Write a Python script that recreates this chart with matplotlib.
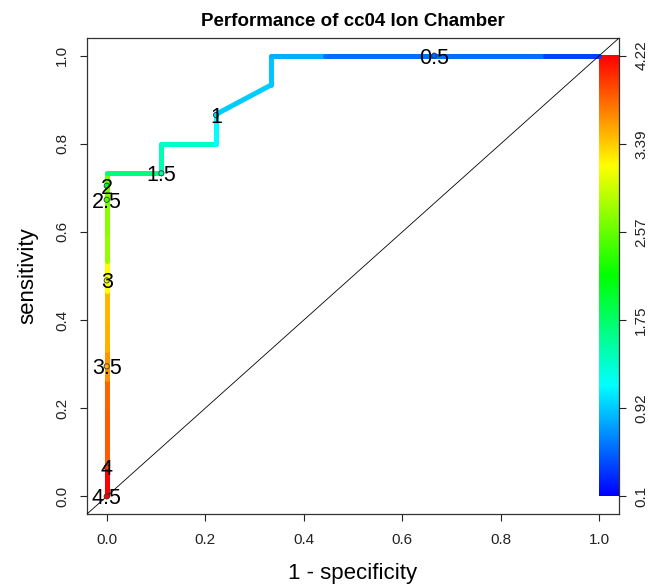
import numpy as np
import matplotlib
matplotlib.use("Agg")
import matplotlib.pyplot as plt
from matplotlib.colors import hsv_to_rgb

plt.rcParams['font.family'] = ['Liberation Sans', 'DejaVu Sans']

# ---------------- data ----------------
title = "Performance of cc04 Ion Chamber"
xlabel = "1 - specificity"
ylabel = "sensitivity"

# ROC curve points (false positive rate, true positive rate)
roc_fpr = [0.0, 0.0, 0.0, 0.0, 0.0, 0.0, 0.0, 0.0, 0.0, 0.0, 0.0, 0.0,
           0.111, 0.111, 0.222, 0.222, 0.333, 0.333, 0.444, 0.556, 0.667,
           0.778, 0.889, 1.0]
roc_tpr = [0.0, 0.067, 0.133, 0.2, 0.267, 0.333, 0.4, 0.467, 0.533, 0.6,
           0.667, 0.733, 0.733, 0.8, 0.8, 0.867, 0.933, 1.0, 1.0, 1.0, 1.0,
           1.0, 1.0, 1.0]
# cutoff value associated with each segment (point i -> point i+1)
seg_cutoff = [4.22, 3.85, 3.85, 3.82, 3.62, 3.50, 3.48, 3.19, 2.75, 2.70,
              2.62, 1.65, 1.45, 1.34, 1.13, 0.93, 0.90, 0.81, 0.55, 0.55,
              0.55, 0.55, 0.36]

# printed cutoffs and where they sit on the curve
cut_labels = ["4.5", "4", "3.5", "3", "2.5", "2", "1.5", "1", "0.5"]
cut_values = [4.5, 4.0, 3.5, 3.0, 2.5, 2.0, 1.5, 1.0, 0.5]
cut_fpr = [0.0, 0.0, 0.0, 0.0, 0.0, 0.0, 0.111, 0.222, 0.665]
cut_tpr = [0.0, 0.066, 0.295, 0.49, 0.673, 0.705, 0.733, 0.865, 1.0]

# colour key
cbar_min, cbar_max = 0.1, 4.22
cbar_ticklabels = ["0.1", "0.92", "1.75", "2.57", "3.39", "4.22"]

axis_ticks = [0.0, 0.2, 0.4, 0.6, 0.8, 1.0]
axis_ticklabels = ["0.0", "0.2", "0.4", "0.6", "0.8", "1.0"]


def rainbow(v):
    t = np.clip((np.asarray(v, float) - cbar_min) / (cbar_max - cbar_min), 0, 1)
    h = (1 - t) * 4.0 / 6.0
    hsv = np.stack([h, np.ones_like(h), np.ones_like(h)], axis=-1)
    return hsv_to_rgb(hsv)


# ---------------- figure ----------------
W, H = 657, 588
fig = plt.figure(figsize=(W / 100, H / 100), dpi=100)
ax = fig.add_axes([87 / W, 1 - 514 / H, (619 - 87) / W, (514 - 38) / H])
ax.set_xlim(-0.04, 1.04)
ax.set_ylim(-0.04, 1.04)

# colour key (inside plot region, right of x = 1)
grad = np.linspace(cbar_min, cbar_max, 256)[:, None]
ax.imshow(rainbow(grad), extent=[1.0, 1.04, 0.0, 1.0], origin='lower',
          aspect='auto', interpolation='bilinear', zorder=1)

# coloured ROC curve
seg_cols = rainbow(seg_cutoff)
for i in range(len(roc_fpr) - 1):
    ax.plot([roc_fpr[i], roc_fpr[i + 1]], [roc_tpr[i], roc_tpr[i + 1]],
            color=seg_cols[i], lw=3.6, solid_capstyle='round', zorder=2)

# diagonal
ax.axline((0, 0), (1, 1), color='black', lw=0.6, zorder=3)

# cutoff points and labels
pt_cols = rainbow(cut_values)
ax.scatter(cut_fpr, cut_tpr, s=14, c=pt_cols, edgecolors='#333333',
           linewidths=0.6, zorder=4)
for lab, x, y in zip(cut_labels, cut_fpr, cut_tpr):
    ax.text(x, y, lab, ha='center', va='center_baseline', fontsize=15.5,
            color='black', zorder=5)

# axes decoration
ax.set_xticks(axis_ticks)
ax.set_xticklabels(axis_ticklabels)
ax.set_yticks(axis_ticks)
ax.set_yticklabels(axis_ticklabels, rotation=90, va='center')
ax.tick_params(axis='x', length=5, width=0.8, labelsize=11,
               colors='#222222', pad=9)
ax.tick_params(axis='y', length=5, width=0.8, labelsize=11,
               colors='#222222', pad=8)
for s in ax.spines.values():
    s.set_linewidth(0.9)
    s.set_color('#333333')

ax.set_xlabel(xlabel, fontsize=16, labelpad=11)
ax.set_ylabel(ylabel, fontsize=16, labelpad=12)
ax.set_title(title, fontsize=13.5, fontweight='bold', pad=9)

ax2 = ax.twinx()
ax2.set_ylim(-0.04, 1.04)
ax2.set_yticks(np.linspace(0, 1, len(cbar_ticklabels)))
ax2.set_yticklabels(cbar_ticklabels, rotation=90, va='center')
ax2.tick_params(axis='y', length=5, width=0.8, labelsize=11,
                colors='#222222', pad=6)
for s in ax2.spines.values():
    s.set_visible(False)

fig.savefig("out.png", dpi=100)
